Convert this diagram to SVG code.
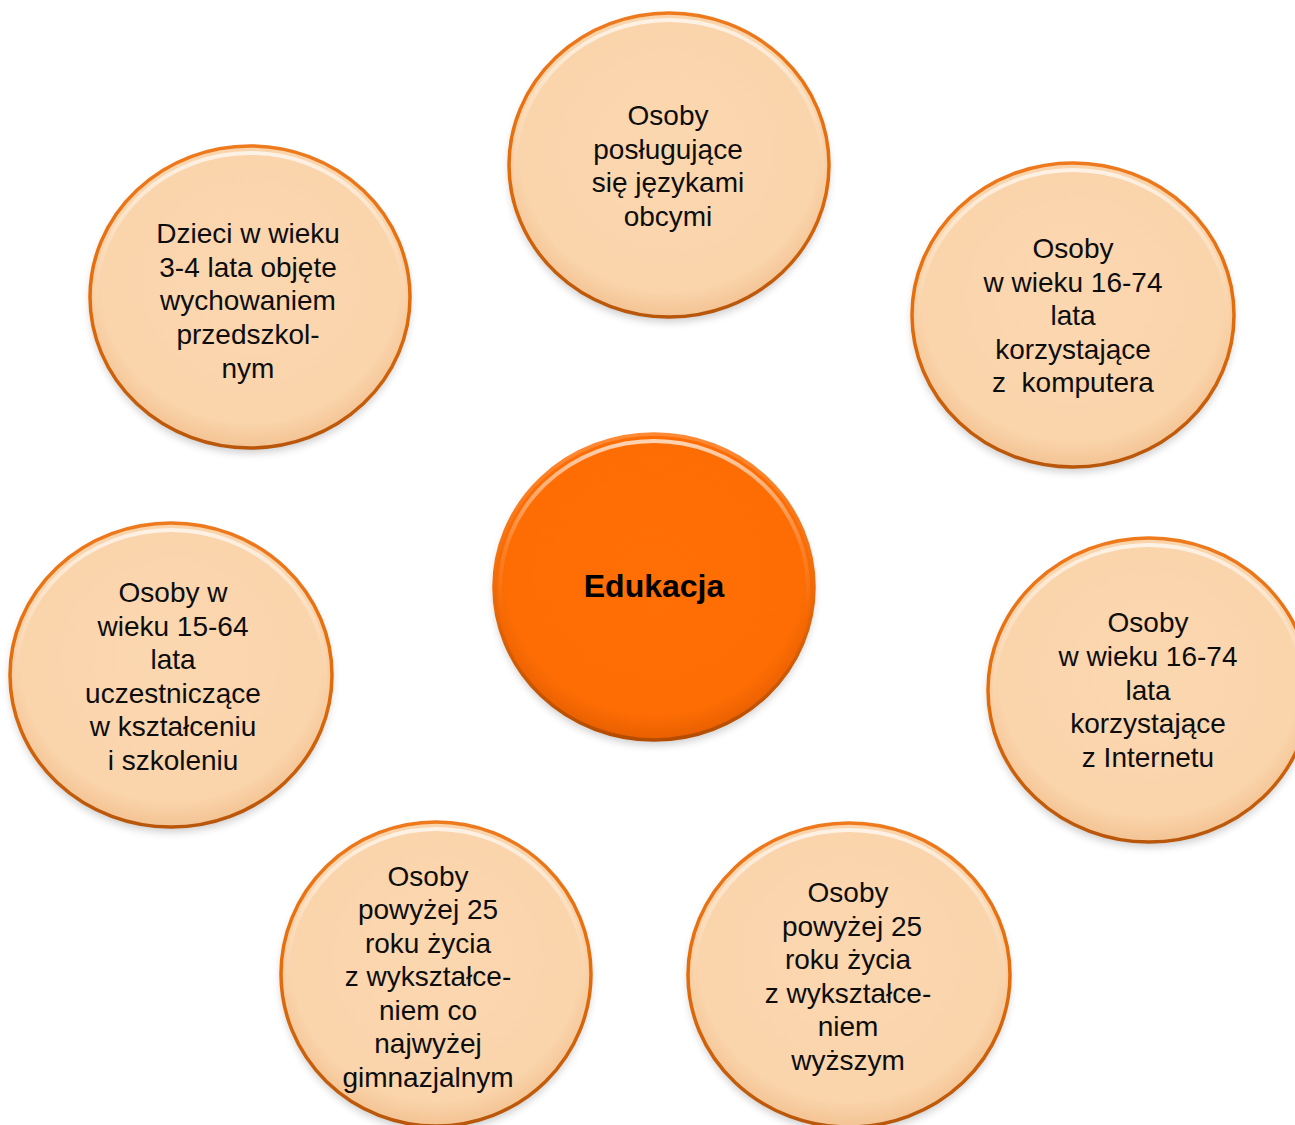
<svg xmlns="http://www.w3.org/2000/svg" width="1295" height="1125" viewBox="0 0 1295 1125">
<defs>
<radialGradient id="peach" cx="50%" cy="45%" r="55%">
<stop offset="0" stop-color="#FBD7B0"/>
<stop offset="0.85" stop-color="#FAD4AB"/>
<stop offset="1" stop-color="#F3C393"/>
</radialGradient>
<radialGradient id="orange" cx="50%" cy="45%" r="55%">
<stop offset="0" stop-color="#FF6F05"/>
<stop offset="0.85" stop-color="#FD6D04"/>
<stop offset="1" stop-color="#E85F00"/>
</radialGradient>
<linearGradient id="rim" x1="0" y1="0" x2="0" y2="1">
<stop offset="0" stop-color="#EE7A1E"/>
<stop offset="0.5" stop-color="#E46C0A"/>
<stop offset="1" stop-color="#B8560A"/>
</linearGradient>
<linearGradient id="rimC" x1="0" y1="0" x2="0" y2="1">
<stop offset="0" stop-color="#FF8A36"/>
<stop offset="0.5" stop-color="#F06A06"/>
<stop offset="1" stop-color="#B34C00"/>
</linearGradient>
<linearGradient id="hl" x1="0" y1="0" x2="0" y2="1">
<stop offset="0" stop-color="#FFFFFF" stop-opacity="0.7"/>
<stop offset="0.35" stop-color="#FFFFFF" stop-opacity="0.15"/>
<stop offset="0.6" stop-color="#FFFFFF" stop-opacity="0"/>
</linearGradient>
<filter id="sh" x="-20%" y="-20%" width="140%" height="140%">
<feGaussianBlur stdDeviation="4"/>
</filter>
</defs>
<style>
.sh{fill:#000;opacity:0.2;filter:url(#sh)}
.p{fill:url(#peach);stroke:url(#rim);stroke-width:3.5}
.c{fill:url(#orange);stroke:url(#rimC);stroke-width:3.5}
.hl{fill:none;stroke:url(#hl);stroke-width:4}
.t{font-family:"Liberation Sans",Arial,sans-serif;font-size:28px;fill:#0D0D0D;text-anchor:middle}
.tb{font-family:"Liberation Sans",Arial,sans-serif;font-size:32px;font-weight:bold;fill:#000;text-anchor:middle}
</style>
<rect width="1295" height="1125" fill="#FFFFFF"/>
<g id="connectors"></g>

<g id="n-top">
<ellipse class="sh" cx="669" cy="170" rx="160" ry="152"/>
<ellipse class="p" cx="669" cy="165" rx="160" ry="152"/>
<ellipse class="hl" cx="669" cy="166" rx="154" ry="146"/>
<text class="t" x="668" y="125">Osoby</text>
<text class="t" x="668" y="159">posługujące</text>
<text class="t" x="668" y="192">się językami</text>
<text class="t" x="668" y="226">obcymi</text>
</g>

<g id="n-topleft">
<ellipse class="sh" cx="250" cy="302" rx="160" ry="151"/>
<ellipse class="p" cx="250" cy="297" rx="160" ry="151"/>
<ellipse class="hl" cx="250" cy="298" rx="154" ry="145"/>
<text class="t" x="248" y="243">Dzieci w wieku</text>
<text class="t" x="248" y="277">3-4 lata objęte</text>
<text class="t" x="248" y="310">wychowaniem</text>
<text class="t" x="248" y="344">przedszkol-</text>
<text class="t" x="248" y="378">nym</text>
</g>

<g id="n-topright">
<ellipse class="sh" cx="1073" cy="320" rx="161" ry="152"/>
<ellipse class="p" cx="1073" cy="315" rx="161" ry="152"/>
<ellipse class="hl" cx="1073" cy="316" rx="155" ry="146"/>
<text class="t" x="1073" y="258">Osoby</text>
<text class="t" x="1073" y="292">w wieku 16-74</text>
<text class="t" x="1073" y="325">lata</text>
<text class="t" x="1073" y="359">korzystające</text>
<text class="t" x="1073" y="392" xml:space="preserve">z  komputera</text>
</g>

<g id="n-center">
<ellipse class="sh" cx="654" cy="592" rx="160" ry="153"/>
<ellipse class="c" cx="654" cy="587" rx="160" ry="153"/>
<ellipse class="hl" cx="654" cy="588" rx="154" ry="147"/>
<text class="tb" x="654" y="597">Edukacja</text>
</g>

<g id="n-left">
<ellipse class="sh" cx="171" cy="680" rx="161" ry="152"/>
<ellipse class="p" cx="171" cy="675" rx="161" ry="152"/>
<ellipse class="hl" cx="171" cy="676" rx="155" ry="146"/>
<text class="t" x="173" y="602">Osoby w</text>
<text class="t" x="173" y="636">wieku 15-64</text>
<text class="t" x="173" y="669">lata</text>
<text class="t" x="173" y="703">uczestniczące</text>
<text class="t" x="173" y="736">w kształceniu</text>
<text class="t" x="173" y="770">i szkoleniu</text>
</g>

<g id="n-right">
<ellipse class="sh" cx="1149" cy="695" rx="161" ry="152"/>
<ellipse class="p" cx="1149" cy="690" rx="161" ry="152"/>
<ellipse class="hl" cx="1149" cy="691" rx="155" ry="146"/>
<text class="t" x="1148" y="632">Osoby</text>
<text class="t" x="1148" y="666">w wieku 16-74</text>
<text class="t" x="1148" y="700">lata</text>
<text class="t" x="1148" y="733">korzystające</text>
<text class="t" x="1148" y="767">z Internetu</text>
</g>

<g id="n-bottomleft">
<ellipse class="sh" cx="436" cy="979" rx="155" ry="152"/>
<ellipse class="p" cx="436" cy="974" rx="155" ry="152"/>
<ellipse class="hl" cx="436" cy="975" rx="149" ry="146"/>
<text class="t" x="428" y="886">Osoby</text>
<text class="t" x="428" y="919">powyżej 25</text>
<text class="t" x="428" y="953">roku życia</text>
<text class="t" x="428" y="986">z wykształce-</text>
<text class="t" x="428" y="1020">niem co</text>
<text class="t" x="428" y="1053">najwyżej</text>
<text class="t" x="428" y="1087">gimnazjalnym</text>
</g>

<g id="n-bottomright">
<ellipse class="sh" cx="849" cy="980" rx="161" ry="152"/>
<ellipse class="p" cx="849" cy="975" rx="161" ry="152"/>
<ellipse class="hl" cx="849" cy="976" rx="155" ry="146"/>
<text class="t" x="848" y="902">Osoby</text>
<text class="t" x="852" y="936">powyżej 25</text>
<text class="t" x="848" y="969">roku życia</text>
<text class="t" x="848" y="1003">z wykształce-</text>
<text class="t" x="848" y="1036">niem</text>
<text class="t" x="848" y="1070">wyższym</text>
</g>
</svg>
